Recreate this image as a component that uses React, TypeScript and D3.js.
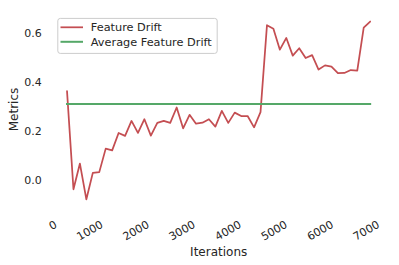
import React from "react";
import * as d3 from "d3";

const iterations = [
  200, 340, 480, 620, 760, 900, 1040, 1180, 1320, 1460, 1600, 1740,
  1880, 2020, 2160, 2300, 2440, 2580, 2720, 2860, 3000, 3140, 3280, 3420,
  3560, 3700, 3840, 3980, 4120, 4260, 4400, 4540, 4680, 4820, 4960, 5100,
  5240, 5380, 5520, 5660, 5800, 5940, 6080, 6220, 6360, 6500, 6640, 6780,
];
const featureDrift = [
  0.364, -0.037, 0.068, -0.078, 0.030, 0.033, 0.129, 0.122, 0.193, 0.181,
  0.242, 0.193, 0.249, 0.182, 0.234, 0.242, 0.234, 0.297, 0.212, 0.267,
  0.231, 0.235, 0.249, 0.219, 0.283, 0.234, 0.276, 0.262, 0.262, 0.216,
  0.278, 0.633, 0.619, 0.533, 0.581, 0.509, 0.539, 0.499, 0.511, 0.452,
  0.469, 0.464, 0.437, 0.438, 0.450, 0.448, 0.623, 0.648,
];
const xTicks = [0, 1000, 2000, 3000, 4000, 5000, 6000, 7000];
const yTicks = [0.0, 0.2, 0.4, 0.6];
const seriesNames = ["Feature Drift", "Average Feature Drift"];

const W = 399;
const H = 265;
const RED = "#c44e52";
const GREEN = "#55a868";
const TXT = "#262626";
const FONT = "'DejaVu Sans', sans-serif";

export default function App() {
  const x = d3.scaleLinear().domain([0, 7000]).range([57.8, 380.3]);
  const y = d3.scaleLinear().domain([0, 0.6]).range([180.2, 33.3]);
  const avg = d3.mean(featureDrift) as number;

  const line = d3
    .line<number>()
    .x((_, i) => x(iterations[i]))
    .y((d) => y(d));

  const avgLine = d3.line<number>()([
    [x(iterations[0]), y(avg)],
    [x(iterations[iterations.length - 1]), y(avg)],
  ] as any);

  return (
    <svg
      width={W}
      height={H}
      style={{ position: "absolute", left: 0, top: 0, background: "#fff" }}
      fontFamily={FONT}
    >
      <rect x={0} y={0} width={W} height={H} fill="#fff" />
      {yTicks.map((t) => (
        <text
          key={t}
          x={41.8}
          y={y(t)}
          dy="0.36em"
          textAnchor="end"
          fontSize={11}
          fill={TXT}
        >
          {d3.format(".1f")(t)}
        </text>
      ))}
      {xTicks.map((t) => (
        <text
          key={t}
          transform={`translate(${x(t)},${226.8}) rotate(-30)`}
          textAnchor="end"
          fontSize={11}
          fill={TXT}
        >
          {t}
        </text>
      ))}
      <text
        transform={`translate(${17.5},${109.5}) rotate(-90)`}
        textAnchor="middle"
        fontSize={12}
        fill={TXT}
      >
        Metrics
      </text>
      <text x={218.7} y={255.5} textAnchor="middle" fontSize={12} fill={TXT}>
        Iterations
      </text>
      <path
        d={line(featureDrift) || ""}
        fill="none"
        stroke={RED}
        strokeWidth={1.75}
        strokeLinejoin="round"
        strokeLinecap="round"
      />
      <path
        d={avgLine || ""}
        fill="none"
        stroke={GREEN}
        strokeWidth={2}
        strokeLinecap="square"
      />
      <g>
        <rect
          x={57.8}
          y={18.4}
          width={159.4}
          height={35}
          rx={2.5}
          fill="#fff"
          fillOpacity={0.8}
          stroke="#cccccc"
          strokeWidth={1}
        />
        {seriesNames.map((name, i) => (
          <g key={name} transform={`translate(0,${27.3 + i * 14.5})`}>
            <line
              x1={60.5}
              x2={83}
              y1={0}
              y2={0}
              stroke={i === 0 ? RED : GREEN}
              strokeWidth={i === 0 ? 1.75 : 2}
            />
            <text x={90.8} y={0} dy="0.36em" fontSize={11.3} fill={TXT}>
              {name}
            </text>
          </g>
        ))}
      </g>
    </svg>
  );
}
